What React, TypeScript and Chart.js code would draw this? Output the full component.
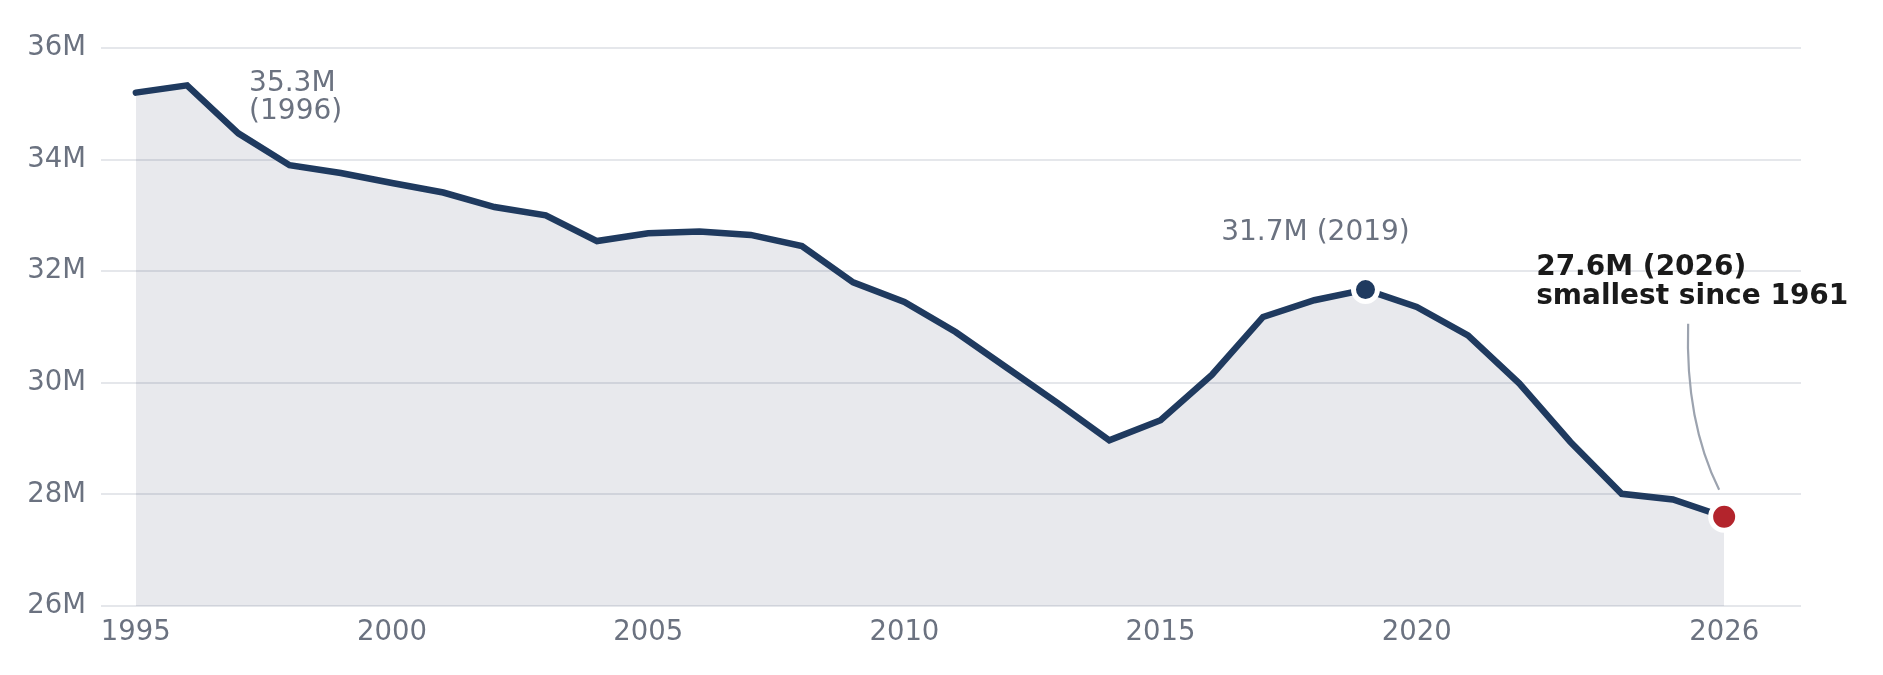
import React, { useRef, useEffect } from "react";
import { Chart, registerables } from "chart.js";

Chart.register(...registerables);

const years = [
  1995, 1996, 1997, 1998, 1999, 2000, 2001, 2002, 2003, 2004, 2005, 2006, 2007, 2008, 2009, 2010,
  2011, 2012, 2013, 2014, 2015, 2016, 2017, 2018, 2019, 2020, 2021, 2022, 2023, 2024, 2025, 2026,
];

// millions
const values = [
  35.2, 35.33, 34.47, 33.9, 33.76, 33.58, 33.41, 33.15, 33.0, 32.54, 32.68, 32.71, 32.65, 32.45, 31.8, 31.45,
  30.91, 30.27, 29.63, 28.97, 29.33, 30.14, 31.18, 31.48, 31.67, 31.36, 30.85, 29.99, 28.94, 28.01, 27.91, 27.6,
];

const xTicks = [1995, 2000, 2005, 2010, 2015, 2020, 2026];

const earlyPeak = { year: 1996, lines: ["35.3M", "(1996)"] };
const laterPeak = { year: 2019, text: "31.7M (2019)" };
const latest = { year: 2026, lines: ["27.6M (2026)", "smallest since 1961"] };

const NAVY = "#1f3a5f";
const RED = "#b3242c";
const MUTED = "#6b7280";
const FONT = "'DejaVu Sans', sans-serif";

const annotations = {
  id: "annotations",
  afterDatasetsDraw(chart: Chart) {
    const { ctx, scales } = chart;
    const xs = scales.x;
    const ys = scales.y;
    const at = (yr: number) => {
      const i = years.indexOf(yr);
      return { x: xs.getPixelForValue(yr), y: ys.getPixelForValue(values[i]) };
    };
    ctx.save();
    ctx.textBaseline = "middle";

    // 1996 peak
    const p1 = at(earlyPeak.year);
    ctx.font = `28px ${FONT}`;
    ctx.fillStyle = MUTED;
    ctx.textAlign = "left";
    earlyPeak.lines.forEach((t, k) => ctx.fillText(t, p1.x + 62, p1.y - 2 + k * 28));

    // 2019 peak
    const p2 = at(laterPeak.year);
    ctx.textAlign = "center";
    ctx.fillText(laterPeak.text, p2.x - 50, p2.y - 57);

    // 2026 low
    const p3 = at(latest.year);
    ctx.textAlign = "left";
    ctx.font = `bold 28px ${FONT}`;
    ctx.fillStyle = "#1a1a1a";
    latest.lines.forEach((t, k) => ctx.fillText(t, p3.x - 188, p3.y - 249 + k * 29));

    // connector
    ctx.strokeStyle = "#9ca3af";
    ctx.lineWidth = 2.2;
    ctx.beginPath();
    ctx.moveTo(p3.x - 36, p3.y - 193);
    ctx.quadraticCurveTo(p3.x - 39, p3.y - 95, p3.x - 5, p3.y - 27);
    ctx.stroke();
    ctx.restore();
  },
};

const App: React.FC = () => {
  const canvasRef = useRef<HTMLCanvasElement | null>(null);
  const chartRef = useRef<Chart | null>(null);

  useEffect(() => {
    if (!canvasRef.current) return;
    const peakIdx = years.indexOf(laterPeak.year);
    const lastIdx = years.indexOf(latest.year);

    chartRef.current = new Chart(canvasRef.current, {
      type: "line",
      data: {
        datasets: [
          {
            data: years.map((yr, i) => ({ x: yr, y: values[i] })),
            borderColor: NAVY,
            borderWidth: 6.5,
            borderCapStyle: "round",
            borderJoinStyle: "miter",
            fill: "start",
            backgroundColor: "rgba(25,35,75,0.1)",
            tension: 0,
            pointRadius: (c: any) => (c.dataIndex === peakIdx ? 12 : c.dataIndex === lastIdx ? 13.5 : 0),
            pointBackgroundColor: (c: any) => (c.dataIndex === lastIdx ? RED : NAVY),
            pointBorderColor: "#ffffff",
            pointBorderWidth: 5,
            pointHoverRadius: 0,
          },
        ],
      },
      options: {
        animation: false,
        responsive: true,
        maintainAspectRatio: false,
        events: [],
        layout: { padding: { top: 48, right: 82, bottom: 24, left: 0 } },
        plugins: { legend: { display: false }, tooltip: { enabled: false } },
        scales: {
          x: {
            type: "linear",
            min: 1994.32,
            max: 2027.5,
            grid: { display: false },
            border: { display: false },
            afterBuildTicks: (scale: any) => {
              scale.ticks = xTicks.map((v) => ({ value: v }));
            },
            ticks: {
              autoSkip: false,
              maxRotation: 0,
              padding: 2,
              color: MUTED,
              font: { family: FONT, size: 27.5 },
              callback: (v: any) => String(v),
            },
          },
          y: {
            min: 26,
            max: 36,
            afterFit: (scale: any) => {
              scale.width = 101;
            },
            grid: { color: "#e5e7eb", lineWidth: 2, drawTicks: false },
            border: { display: false },
            ticks: {
              stepSize: 2,
              padding: 15,
              color: MUTED,
              font: { family: FONT, size: 27.5 },
              callback: (v: any) => `${v}M`,
            },
          },
        },
      },
      plugins: [annotations],
    });

    return () => {
      chartRef.current?.destroy();
      chartRef.current = null;
    };
  }, []);

  return (
    <div style={{ position: "absolute", left: 0, top: 0, width: 1883, height: 675, background: "#fff" }}>
      <canvas ref={canvasRef} />
    </div>
  );
};

export default App;
